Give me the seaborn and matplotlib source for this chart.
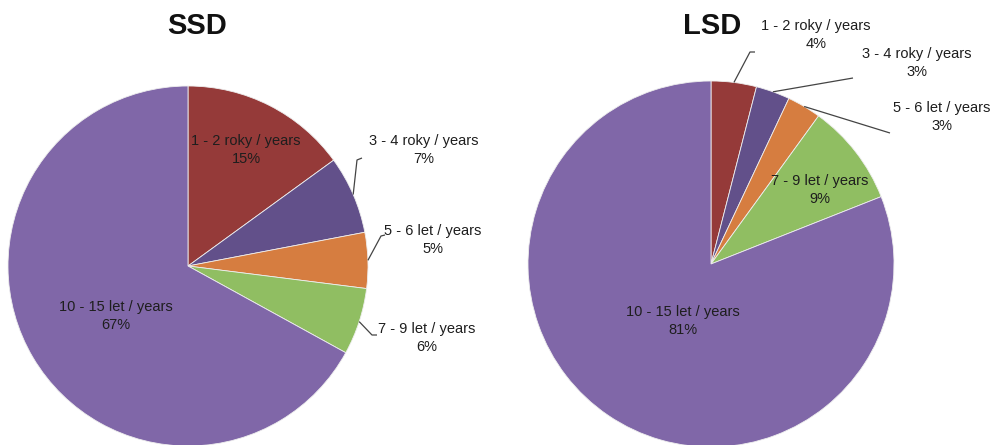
import numpy as np
import matplotlib
matplotlib.use("Agg")
import matplotlib.pyplot as plt
import seaborn as sns

# Duration categories and shares (%) for the two groups
categories = ["1 - 2 roky / years", "3 - 4 roky / years", "5 - 6 let / years",
              "7 - 9 let / years", "10 - 15 let / years"]
ssd_values = [15, 7, 5, 6, 67]
lsd_values = [4, 3, 3, 9, 81]
titles = ["SSD", "LSD"]

sns.set_theme(style="white")
plt.rcParams["font.family"] = ["Liberation Sans", "DejaVu Sans"]

palette = sns.color_palette(["#953a39", "#62508a", "#d67d40", "#90be62", "#8067a8"])

W, H = 992, 445
fig = plt.figure(figsize=(W / 100, H / 100), dpi=100)
ax = fig.add_axes([0, 0, 1, 1])

# Layout in figure-pixel units (y measured from the top, flipped below)
pies = [
    dict(values=ssd_values, title=titles[0], center=(188, 266), radius=180,
         title_xy=(197, 26),
         labels=[
             dict(xy=(246, 150), leader=None),
             dict(xy=(424, 150), leader=[(357, 160), (362, 158)]),
             dict(xy=(433, 240), leader=[(381, 236), (385, 235)]),
             dict(xy=(427, 338), leader=[(372, 335), (377, 335)]),
             dict(xy=(116, 316), leader=None),
         ]),
    dict(values=lsd_values, title=titles[1], center=(711, 264), radius=183,
         title_xy=(712, 26),
         labels=[
             dict(xy=(816, 35), leader=[(750, 52), (755, 52)]),
             dict(xy=(917, 63), leader=[(853, 78)]),
             dict(xy=(942, 117), leader=[(890, 133)]),
             dict(xy=(820, 190), leader=None),
             dict(xy=(683, 321), leader=None),
         ]),
]


def fy(y):
    return H - y


text_color = "#1e1e1e"
for p in pies:
    cx, cy = p["center"]
    r = p["radius"]
    wedges, _ = ax.pie(p["values"], colors=palette, startangle=90, counterclock=False,
                       center=(cx, fy(cy)), radius=r,
                       wedgeprops=dict(edgecolor="#eeeeee", linewidth=0.6))
    total = sum(p["values"])
    for w, v, cat, lab in zip(wedges, p["values"], categories, p["labels"]):
        lx, ly = lab["xy"]
        ax.text(lx, fy(ly), f"{cat}\n{v / total * 100:.0f}%", ha="center", va="center",
                fontsize=10.5, color=text_color, linespacing=1.3)
        if lab["leader"]:
            theta = np.deg2rad((w.theta1 + w.theta2) / 2)
            sx, sy = cx + r * np.cos(theta), fy(cy) + r * np.sin(theta)
            xs = [sx] + [q[0] for q in lab["leader"]]
            ys = [sy] + [fy(q[1]) for q in lab["leader"]]
            ax.plot(xs, ys, color="#444444", lw=0.9, solid_capstyle="butt")
    tx, ty = p["title_xy"]
    ax.text(tx, fy(ty), p["title"], ha="center", va="center", fontsize=21,
            fontweight="bold", color="#111111")

ax.set_xlim(0, W)
ax.set_ylim(0, H)
ax.set_aspect("auto")
ax.axis("off")

fig.savefig("out.png", dpi=100, facecolor="white")
